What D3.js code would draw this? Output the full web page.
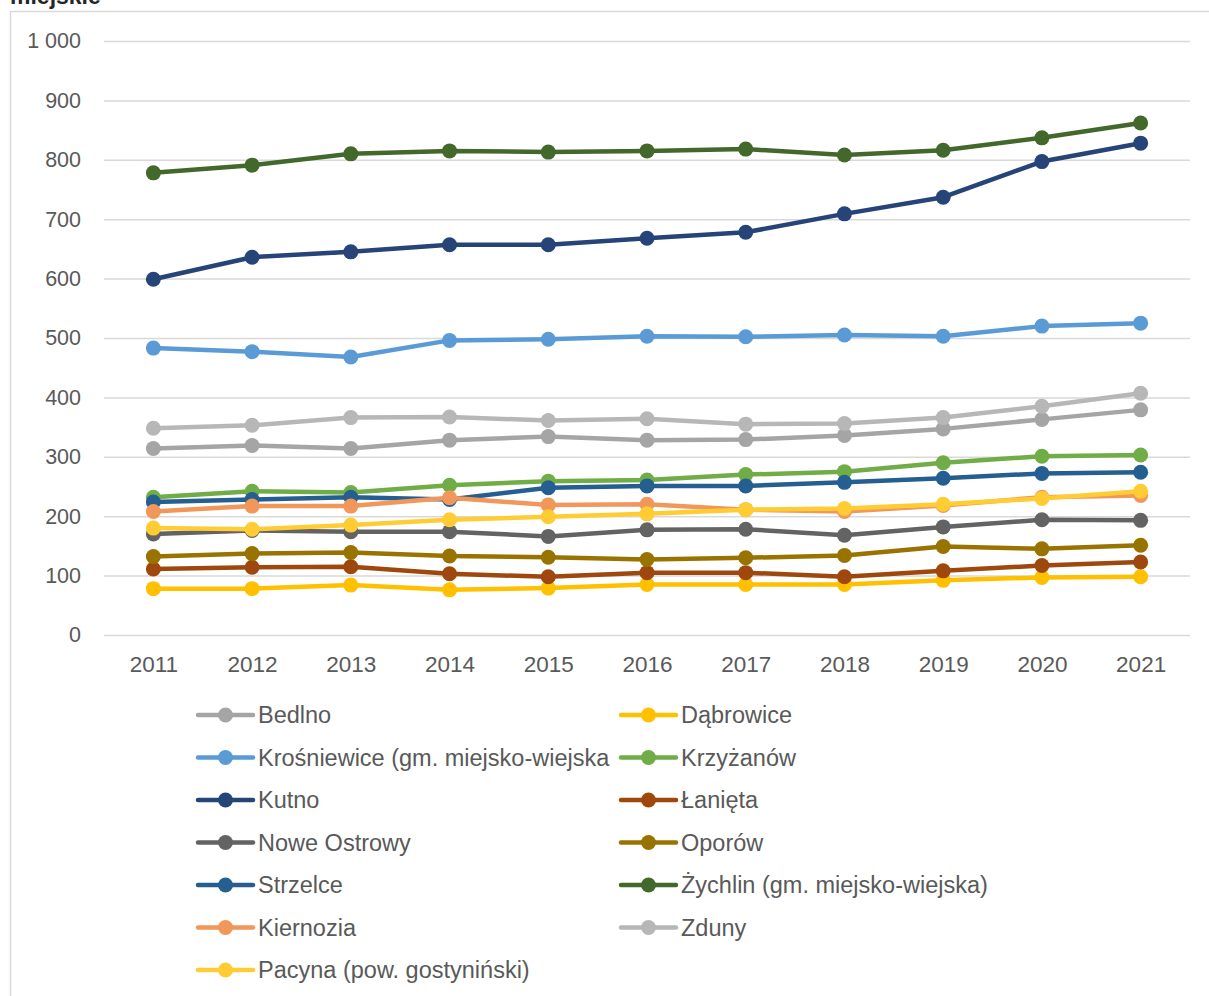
<!DOCTYPE html>
<html>
<head>
<meta charset="utf-8">
<script src="https://cdn.jsdelivr.net/npm/d3@7"></script>
<style>
  body { margin: 0; background: #fff; }
  text { font-family: "Liberation Sans", Arial, sans-serif; }
</style>
</head>
<body>
<svg id="chart"></svg>
<script>
// Years on the category axis
const years = ['2011', '2012', '2013', '2014', '2015', '2016', '2017', '2018', '2019', '2020', '2021'];

// Values per gmina
const bedlno      = [314, 319, 314, 328, 334, 328, 329, 336, 347, 363, 379];
const dabrowice   = [78, 78, 84, 76, 79, 85, 85, 85, 92, 97, 98];
const krosniewice = [483, 477, 468, 496, 498, 503, 502, 505, 503, 520, 525];
const krzyzanow   = [232, 242, 240, 252, 259, 261, 270, 275, 290, 301, 303];
const kutno       = [599, 636, 645, 657, 657, 668, 678, 709, 737, 797, 828];
const lanieta     = [111, 114, 115, 103, 98, 105, 105, 98, 108, 117, 123];
const noweOstrowy = [170, 176, 174, 174, 166, 177, 178, 168, 182, 194, 193];
const oporow      = [132, 137, 139, 133, 131, 127, 130, 134, 149, 145, 151];
const strzelce    = [224, 228, 232, 228, 248, 251, 251, 257, 264, 272, 274];
const zychlin     = [778, 791, 810, 815, 813, 815, 818, 808, 816, 837, 862];
const kiernozia   = [208, 217, 217, 231, 219, 220, 211, 208, 218, 232, 235];
const zduny       = [348, 353, 366, 367, 361, 364, 355, 356, 366, 385, 407];
const pacyna      = [180, 178, 185, 194, 199, 204, 211, 213, 220, 230, 242];

const yTicks = [0, 100, 200, 300, 400, 500, 600, 700, 800, 900, 1000];

const series = [
  { name: 'Bedlno', values: bedlno, color: '#A5A5A5' },
  { name: 'Dąbrowice', values: dabrowice, color: '#FFC000' },
  { name: 'Krośniewice (gm. miejsko-wiejska', values: krosniewice, color: '#5B9BD5' },
  { name: 'Krzyżanów', values: krzyzanow, color: '#70AD47' },
  { name: 'Kutno', values: kutno, color: '#264478' },
  { name: 'Łanięta', values: lanieta, color: '#9E480E' },
  { name: 'Nowe Ostrowy', values: noweOstrowy, color: '#636363' },
  { name: 'Oporów', values: oporow, color: '#997300' },
  { name: 'Strzelce', values: strzelce, color: '#255E91' },
  { name: 'Żychlin (gm. miejsko-wiejska)', values: zychlin, color: '#43682B' },
  { name: 'Kiernozia', values: kiernozia, color: '#F1975A' },
  { name: 'Zduny', values: zduny, color: '#B7B7B7' },
  { name: 'Pacyna (pow. gostyniński)', values: pacyna, color: '#FFCD33' }
];

const W = 1209, H = 996;
const plot = { left: 104, right: 1190, top: 41, bottom: 635 };

const svg = d3.select('#chart')
    .attr('width', W)
    .attr('height', H);

// Chart frame (cut at right and bottom like the source)
svg.append('path')
    .attr('d', `M10.5,${H + 2}V11.5H${W + 2}`)
    .attr('fill', 'none')
    .attr('stroke', '#d9d9d9')
    .attr('stroke-width', 1.5);

// Title, mostly above the visible area in the source
svg.append('text')
    .attr('x', 10)
    .attr('y', 4)
    .style('font-size', '23px')
    .style('font-weight', 'bold')
    .attr('fill', '#262626')
    .text('miejskie');

const x = d3.scalePoint()
    .domain(years)
    .range([plot.left, plot.right])
    .padding(0.5);

const y = d3.scaleLinear()
    .domain([0, 1000])
    .range([plot.bottom, plot.top]);

const fmt = v => d3.format(',')(v).replace(/,/g, ' ');

// Gridlines + y labels
const yAxis = d3.axisLeft(y)
    .tickValues(yTicks)
    .tickSize(-(plot.right - plot.left))
    .tickPadding(23)
    .tickFormat(fmt);

svg.append('g')
    .attr('transform', 'translate(' + plot.left + ',0)')
    .call(yAxis)
    .call(g => g.select('.domain').remove())
    .call(g => g.selectAll('.tick line').attr('stroke', '#d9d9d9').attr('stroke-width', 1.5))
    .call(g => g.selectAll('.tick text')
        .attr('fill', '#595959')
        .style('font-size', '21.5px'));

// X labels
const xAxis = d3.axisBottom(x).tickSize(0).tickPadding(21);

svg.append('g')
    .attr('transform', 'translate(0,' + plot.bottom + ')')
    .call(xAxis)
    .call(g => g.select('.domain').remove())
    .call(g => g.selectAll('.tick text')
        .attr('fill', '#595959')
        .style('font-size', '22.5px'));

// Lines with markers
const line = d3.line()
    .x((d, i) => x(years[i]))
    .y(d => y(d));

const groups = svg.append('g')
  .selectAll('g')
    .data(series)
  .enter().append('g');

groups.append('path')
    .attr('d', d => line(d.values))
    .attr('fill', 'none')
    .attr('stroke', d => d.color)
    .attr('stroke-width', 4.5)
    .attr('stroke-linejoin', 'round');

groups.selectAll('circle')
    .data(d => d.values.map((v, i) => ({ v: v, i: i, color: d.color })))
  .enter().append('circle')
    .attr('cx', d => x(years[d.i]))
    .attr('cy', d => y(d.v))
    .attr('r', 7.5)
    .attr('fill', d => d.color);

// Legend, two columns
const legend = svg.append('g');
const colX = [198, 621];
const rowY0 = 715, rowStep = 42.5;

const items = legend.selectAll('g')
    .data(series)
  .enter().append('g')
    .attr('transform', (d, i) => 'translate(' + colX[i % 2] + ',' + (rowY0 + Math.floor(i / 2) * rowStep) + ')');

items.append('line')
    .attr('x1', 0).attr('x2', 55)
    .attr('stroke', d => d.color)
    .attr('stroke-width', 4.5)
    .attr('stroke-linecap', 'round');

items.append('circle')
    .attr('cx', 27.5)
    .attr('r', 7.5)
    .attr('fill', d => d.color);

items.append('text')
    .attr('x', 60)
    .attr('dy', '0.35em')
    .attr('fill', '#595959')
    .style('font-size', '23.5px')
    .text(d => d.name);
</script>
</body>
</html>
